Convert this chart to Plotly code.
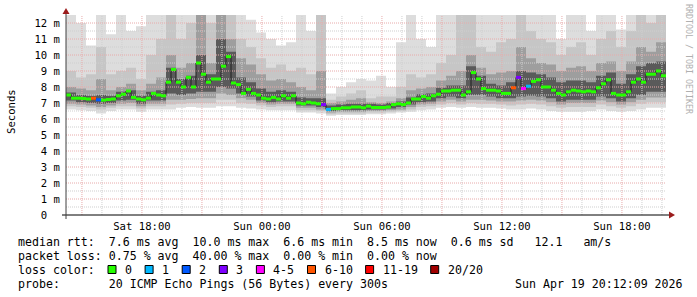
import datetime as dt
import plotly.graph_objects as go

# ---------------- data ----------------
END = dt.datetime(2026, 4, 19, 20, 12, 9)
START = END - dt.timedelta(hours=30)

# median RTT in ms, one value per 15-minute step (120 steps)
median_ms = [
    7.5, 7.3, 7.3, 7.28, 7.25, 7.3, 7.2, 7.18, 7.22, 7.25,
    7.45, 7.55, 7.75, 7.35, 7.25, 7.2, 7.3, 7.6, 7.5, 7.45,
    8.3, 9.1, 8.3, 8.0, 8.6, 8.0, 9.5, 8.8, 8.3, 8.5,
    8.5, 9.3, 9.9, 8.25, 8.15, 7.6, 7.85, 7.6, 7.5, 7.3,
    7.25, 7.35, 7.25, 7.45, 7.3, 7.45, 7.0, 6.95, 7.05, 7.0,
    6.95, 6.9, 6.6, 6.65, 6.65, 6.7, 6.7, 6.75, 6.75, 6.7,
    6.8, 6.72, 6.72, 6.72, 6.75, 6.9, 6.95, 6.9, 7.0, 7.25,
    7.25, 7.4, 7.3, 7.45, 7.55, 7.75, 7.75, 7.8, 7.8, 7.5,
    7.7, 8.9, 8.5, 7.9, 7.8, 7.8, 7.75, 7.6, 7.6, 7.95,
    8.6, 7.9, 8.05, 8.35, 8.45, 8.0, 8.0, 7.8, 7.6, 7.5,
    7.7, 7.8, 7.75, 7.7, 7.75, 7.7, 7.95, 8.2, 8.45, 7.6,
    7.5, 7.5, 7.7, 8.3, 8.5, 8.3, 8.8, 8.8, 9.0, 8.7,
]
# lost pings (of 20) per 15-minute step
loss_pings = [0] * 120
loss_pings[5] = 8
loss_pings[6] = 2
loss_pings[51] = 3
loss_pings[52] = 1
loss_pings[89] = 7
loss_pings[90] = 3
loss_pings[91] = 5
loss_pings[92] = 1

# smoke (ping spread) boundaries in ms, one value per 30-minute step (60 steps)
smoke_hi_a = [
    12.5, 12.0, 10.6, 12.5, 11.3, 12.5, 11.5, 11.8, 12.5, 12.5, 12.5, 12.5, 12.5, 12.5, 12.5,
    12.5, 12.5, 12.5, 12.2, 11.4, 11.0, 10.6, 10.8, 12.5, 11.5, 12.5, 7.6, 8.0, 8.3, 8.5,
    8.4, 8.7, 8.0, 10.8, 12.5, 11.0, 10.5, 12.5, 12.5, 12.5, 12.5, 12.5, 12.5, 12.5, 12.5,
    12.5, 12.5, 12.5, 12.5, 11.0, 12.5, 12.5, 11.5, 12.5, 12.5, 11.6, 12.5, 12.5, 12.5, 12.5,
]
smoke_hi_b = [
    9.0, 8.6, 8.8, 10.5, 8.8, 9.0, 9.2, 8.5, 10.0, 11.0, 12.5, 11.0, 12.0, 12.5, 12.0,
    12.5, 12.5, 11.0, 10.5, 9.8, 9.2, 9.4, 9.0, 9.2, 8.8, 12.5, 7.2, 7.4, 7.6, 7.8,
    7.3, 7.4, 7.4, 8.0, 8.8, 8.6, 8.8, 9.5, 10.0, 12.5, 12.5, 10.5, 10.2, 10.8, 11.0,
    12.5, 11.5, 11.0, 10.8, 10.0, 10.5, 10.8, 10.0, 11.0, 11.5, 10.5, 11.5, 12.5, 12.0, 12.5,
]
smoke_hi_c = [
    8.0, 7.9, 7.8, 8.5, 7.8, 8.0, 8.2, 7.8, 8.2, 8.6, 10.0, 9.2, 9.5, 12.5, 9.5,
    12.5, 11.0, 9.8, 9.4, 8.8, 8.4, 8.5, 8.3, 8.0, 7.8, 9.0, 7.0, 7.1, 7.2, 7.3,
    7.05, 7.0, 7.1, 7.3, 7.8, 7.9, 8.0, 8.4, 8.7, 9.0, 10.0, 9.2, 8.8, 8.9, 9.0,
    10.5, 9.8, 9.5, 9.4, 9.0, 9.2, 9.3, 9.0, 9.5, 9.6, 9.0, 9.6, 10.5, 10.2, 10.8,
]
smoke_hi_d = [
    7.65, 7.5, 7.45, 7.5, 7.45, 7.7, 7.8, 7.45, 7.7, 7.8, 9.2, 8.5, 8.7, 10.0, 8.8,
    11.0, 10.2, 8.6, 8.3, 7.9, 7.7, 7.8, 7.7, 7.35, 7.3, 7.3, 6.85, 6.9, 6.95, 6.95,
    6.95, 6.9, 7.0, 7.1, 7.35, 7.55, 7.6, 7.95, 8.1, 8.1, 9.3, 8.7, 8.2, 8.1, 8.3,
    9.0, 8.9, 8.8, 8.6, 8.3, 8.4, 8.4, 8.3, 8.7, 8.9, 8.2, 8.8, 9.3, 9.5, 9.6,
]
smoke_lo_d = [
    7.15, 7.05, 7.0, 6.95, 7.0, 7.15, 7.2, 6.95, 7.15, 7.15, 7.6, 7.5, 7.6, 7.7, 7.7,
    8.0, 7.9, 7.6, 7.4, 7.15, 7.05, 7.1, 7.1, 6.85, 6.85, 6.75, 6.5, 6.55, 6.55, 6.55,
    6.6, 6.6, 6.65, 6.75, 6.9, 7.05, 7.1, 7.3, 7.4, 7.3, 7.5, 7.5, 7.4, 7.3, 7.3,
    7.4, 7.45, 7.4, 7.3, 7.1, 7.2, 7.2, 7.2, 7.4, 7.3, 7.1, 7.3, 7.5, 7.7, 7.7,
]
smoke_lo_c = [
    6.95, 6.9, 6.85, 6.75, 6.85, 6.95, 7.0, 6.8, 6.95, 6.95, 7.2, 7.2, 7.25, 7.3, 7.3,
    7.6, 7.5, 7.3, 7.2, 7.0, 6.9, 6.95, 6.95, 6.7, 6.7, 6.6, 6.4, 6.45, 6.45, 6.45,
    6.5, 6.5, 6.55, 6.6, 6.75, 6.9, 6.95, 7.1, 7.2, 7.1, 7.2, 7.2, 7.15, 7.1, 7.1,
    7.15, 7.2, 7.15, 7.05, 6.9, 7.0, 7.0, 7.0, 7.15, 7.05, 6.9, 7.05, 7.2, 7.35, 7.35,
]
smoke_lo_b = [
    6.8, 6.75, 6.7, 6.6, 6.7, 6.8, 6.8, 6.65, 6.8, 6.8, 6.9, 6.95, 7.0, 7.0, 7.0,
    7.2, 7.2, 7.0, 6.95, 6.85, 6.75, 6.8, 6.8, 6.55, 6.55, 6.5, 6.3, 6.35, 6.35, 6.35,
    6.4, 6.4, 6.45, 6.5, 6.6, 6.75, 6.8, 6.9, 7.0, 6.9, 7.0, 6.95, 6.95, 6.9, 6.85,
    6.9, 6.95, 6.9, 6.8, 6.7, 6.75, 6.75, 6.75, 6.9, 6.8, 6.7, 6.8, 6.95, 7.05, 7.05,
]
smoke_lo_a = [
    6.6, 6.55, 6.5, 6.35, 6.5, 6.6, 6.6, 6.45, 6.6, 6.6, 6.6, 6.7, 6.75, 6.7, 6.7,
    6.8, 6.8, 6.7, 6.65, 6.6, 6.55, 6.55, 6.55, 6.4, 6.4, 6.35, 6.2, 6.25, 6.25, 6.25,
    6.3, 6.3, 6.35, 6.4, 6.45, 6.55, 6.6, 6.7, 6.75, 6.7, 6.75, 6.7, 6.7, 6.65, 6.6,
    6.6, 6.65, 6.6, 6.5, 6.45, 6.45, 6.45, 6.5, 6.6, 6.5, 6.45, 6.5, 6.6, 6.7, 6.7,
]

y_tick_vals = list(range(13))
y_tick_text = ["0\u00a0\u00a0"] + [f"{v} m" for v in range(1, 13)]
x_tick_times = [dt.datetime(2026, 4, 18, 18), dt.datetime(2026, 4, 19, 0), dt.datetime(2026, 4, 19, 6),
                dt.datetime(2026, 4, 19, 12), dt.datetime(2026, 4, 19, 18)]
x_tick_text = ["Sat 18:00", "Sun 00:00", "Sun 06:00", "Sun 12:00", "Sun 18:00"]

loss_labels = ["0", "1", "2", "3", "4-5", "6-10", "11-19", "20/20"]
loss_colors = ["#26ff00", "#00b8ff", "#0059ff", "#7e00ff", "#ff00ff", "#ff5500", "#ff0000", "#a10000"]
loss_upper = [0, 1, 2, 3, 5, 10, 19, 20]

stat_line1 = "median rtt:  7.6 ms avg  10.0 ms max  6.6 ms min  8.5 ms now  0.6 ms sd   12.1   am/s"
stat_line2 = "packet loss: 0.75 % avg  40.00 % max  0.00 % min  0.00 % now"
stat_line3 = "loss color:"
stat_line4 = "probe:       20 ICMP Echo Pings (56 Bytes) every 300s"
stamp_text = "Sun Apr 19 20:12:09 2026"
y_title = "Seconds"
watermark = "RRDTOOL / TOBI OETIKER"

# smoke shades (lightest outer band to darkest core)
band_colors = ["#dddddd", "#c6c6c6", "#9e9e9e", "#5a5a5a"]

# ---------------- layout geometry (pixels) ----------------
W, H = 697, 297
PL, PR, PT, PB = 66, 666, 15, 215
YMAX = 12.5
MONO = "DejaVu Sans Mono"


def px(xp):
    return (xp - PL) / (PR - PL)


def py(yp):
    return (PB - yp) / (PB - PT)


def nb(s):
    return s.replace(" ", "\u00a0")


fig = go.Figure()

# ---------------- smoke bands ----------------
t30 = [START + dt.timedelta(minutes=30 * i) for i in range(len(smoke_hi_a) + 1)]
bands = [(smoke_lo_a, smoke_hi_a), (smoke_lo_b, smoke_hi_b), (smoke_lo_c, smoke_hi_c), (smoke_lo_d, smoke_hi_d)]
for (lo, hi), col in zip(bands, band_colors):
    fig.add_trace(go.Scatter(x=t30, y=lo + [lo[-1]], mode="lines", line=dict(width=0, shape="hv"),
                             hoverinfo="skip", showlegend=False))
    fig.add_trace(go.Scatter(x=t30, y=[min(v, YMAX) for v in hi] + [min(hi[-1], YMAX)], mode="lines",
                             line=dict(width=0, shape="hv"), fill="tonexty", fillcolor=col,
                             hoverinfo="skip", showlegend=False))

# ---------------- grid (drawn over the smoke like rrdtool) ----------------
minor_x, minor_y, major_x, major_y = [], [], [], []
h = START.replace(minute=0, second=0) + dt.timedelta(hours=1)
while h <= END:
    if h.hour % 3 == 0:
        major_x += [h, h, None]; major_y += [0, YMAX, None]
    else:
        minor_x += [h, h, None]; minor_y += [0, YMAX, None]
    h += dt.timedelta(hours=1)
for k in range(1, 25):
    v = k * 0.5
    if k % 2 == 0:
        major_x += [START, END, None]; major_y += [v, v, None]
    else:
        minor_x += [START, END, None]; minor_y += [v, v, None]
fig.add_trace(go.Scatter(x=minor_x, y=minor_y, mode="lines", line=dict(color="#cfcfcf", width=1, dash="1px,1px"),
                         hoverinfo="skip", showlegend=False))
fig.add_trace(go.Scatter(x=major_x, y=major_y, mode="lines", line=dict(color="#e8aaaa", width=1, dash="1px,1px"),
                         hoverinfo="skip", showlegend=False))

# ---------------- median ----------------
t15 = [START + dt.timedelta(minutes=15 * i) for i in range(len(median_ms) + 1)]
fig.add_trace(go.Scatter(x=t15, y=median_ms + [median_ms[-1]], mode="lines",
                         line=dict(color="#202020", width=1, shape="hv"), hoverinfo="skip", showlegend=False))


def loss_class(n):
    for ci, up in enumerate(loss_upper):
        if n <= up:
            return ci
    return len(loss_upper) - 1


for ci, col in enumerate(loss_colors):
    xs, ys = [], []
    for i, m in enumerate(median_ms):
        if loss_class(loss_pings[i]) == ci:
            xs += [t15[i], t15[i + 1], None]
            ys += [m, m, None]
    if xs:
        fig.add_trace(go.Scatter(x=xs, y=ys, mode="lines", line=dict(color=col, width=3),
                                 hoverinfo="skip", showlegend=False))

# ---------------- axes ----------------
fig.update_xaxes(type="date", range=[START, END], showgrid=False, zeroline=False,
                 tickmode="array", tickvals=x_tick_times, ticktext=x_tick_text, ticks="",
                 tickfont=dict(family=MONO, size=10.6, color="#000000"), ticklabelstandoff=3,
                 showline=False, automargin=False, fixedrange=True)
fig.update_yaxes(range=[0, YMAX], showgrid=False, zeroline=False,
                 tickmode="array", tickvals=y_tick_vals, ticktext=y_tick_text, ticks="",
                 tickfont=dict(family=MONO, size=10.6, color="#000000"), ticklabelstandoff=5,
                 showline=False, automargin=False, fixedrange=True)

shapes = []
# x axis line with arrow
shapes.append(dict(type="line", xref="paper", yref="paper", x0=px(62), x1=px(670), y0=0, y1=0,
                   line=dict(color="#000000", width=1), layer="above"))
shapes.append(dict(type="path", xref="paper", yref="paper",
                   path=f"M {px(669)} {py(211.5)} L {px(675)} {py(215)} L {px(669)} {py(218.5)} Z",
                   fillcolor="#9b1c1c", line=dict(width=0), layer="above"))
# y axis line with arrow
shapes.append(dict(type="line", xref="paper", yref="paper", x0=0, x1=0, y0=py(219), y1=py(12),
                   line=dict(color="#404040", width=1), layer="above"))
shapes.append(dict(type="path", xref="paper", yref="paper",
                   path=f"M {px(62.5)} {py(14)} L {px(66)} {py(8)} L {px(69.5)} {py(14)} Z",
                   fillcolor="#9b1c1c", line=dict(width=0), layer="above"))

annotations = []
row_y = [241.5, 255.5, 269.5, 283.5]
for txt, ry in zip([stat_line1, stat_line2, stat_line3, stat_line4], row_y):
    annotations.append(dict(text=nb(txt), xref="paper", yref="paper", x=px(16), y=py(ry),
                            xanchor="left", yanchor="middle", showarrow=False,
                            font=dict(family=MONO, size=11.6, color="#000000")))
annotations.append(dict(text=nb(stamp_text), xref="paper", yref="paper", x=px(513), y=py(row_y[3]),
                        xanchor="left", yanchor="middle", showarrow=False,
                        font=dict(family=MONO, size=11.6, color="#000000")))

# loss color legend boxes
bx = 108.0
for lab, col in zip(loss_labels, loss_colors):
    shapes.append(dict(type="rect", xref="paper", yref="paper", x0=px(bx), x1=px(bx + 8),
                       y0=py(273.5), y1=py(265.5), fillcolor=col, line=dict(color="#000000", width=1),
                       layer="above"))
    annotations.append(dict(text=lab, xref="paper", yref="paper", x=px(bx + 15), y=py(row_y[2]),
                            xanchor="left", yanchor="middle", showarrow=False,
                            font=dict(family=MONO, size=11.6, color="#000000")))
    bx += 7.0 * (len(lab) + 4.3)

annotations.append(dict(text=y_title, xref="paper", yref="paper", x=px(11), y=py(112),
                        xanchor="center", yanchor="middle", textangle=-90, showarrow=False,
                        font=dict(family=MONO, size=10.6, color="#000000")))
annotations.append(dict(text=nb(watermark), xref="paper", yref="paper", x=px(689), y=py(59),
                        xanchor="center", yanchor="middle", textangle=90, showarrow=False,
                        font=dict(family=MONO, size=8.3, color="#b0b0b0")))

fig.update_layout(width=W, height=H, autosize=False,
                  margin=dict(l=PL, r=W - PR, t=PT, b=H - PB, pad=0),
                  paper_bgcolor="#ffffff", plot_bgcolor="#ffffff",
                  showlegend=False, shapes=shapes, annotations=annotations)

fig.write_html("out.html")
